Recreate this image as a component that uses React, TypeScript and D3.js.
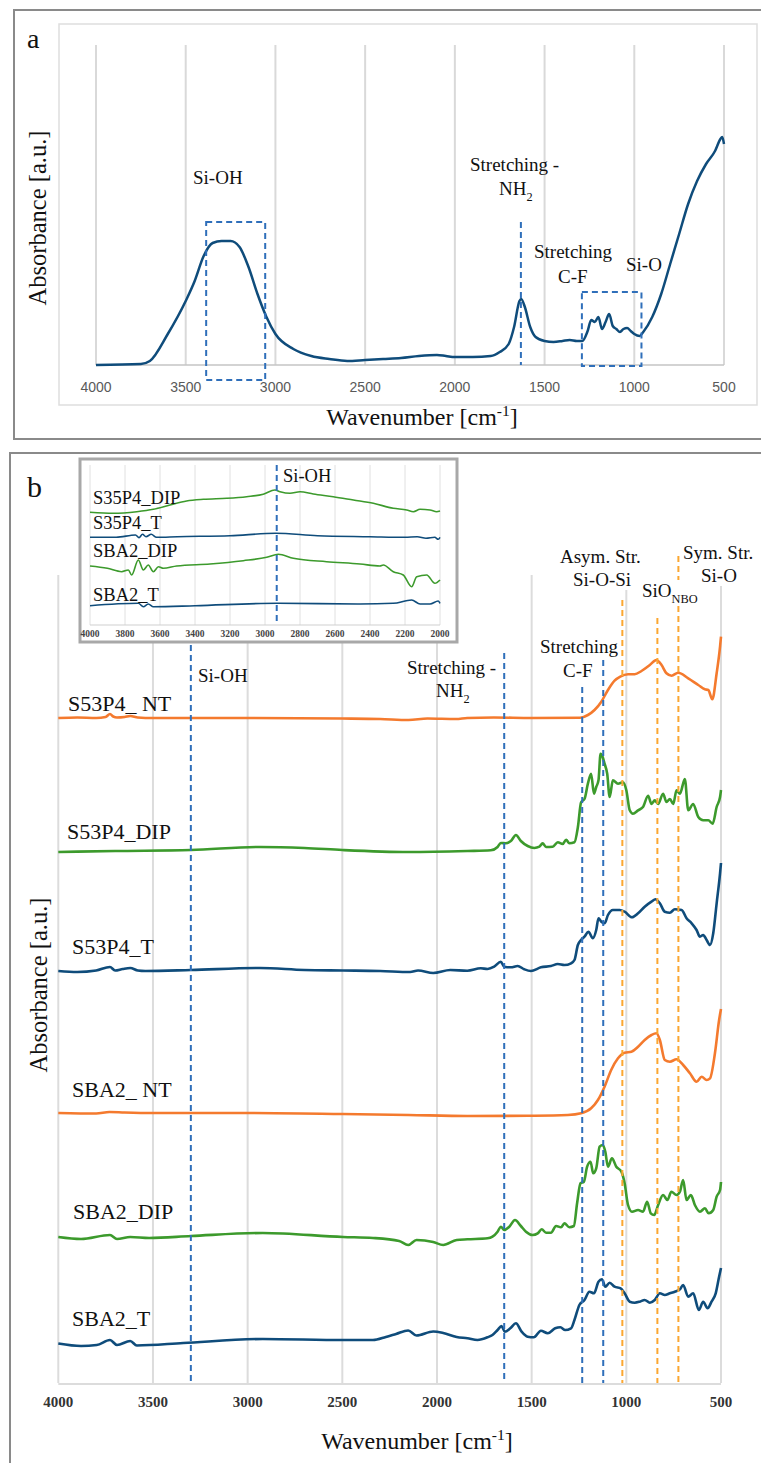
import React, { useEffect, useRef } from 'react';
import * as d3 from 'd3';

type Pt = [number, number];

const W = 761;
const H = 1463;
const serif = "'Liberation Serif', 'Times New Roman', serif";
const sans = "'Liberation Sans', Arial, sans-serif";

// ---- panel a ----
const ticksA = [4000, 3500, 3000, 2500, 2000, 1500, 1000, 500];
const spectrumA: Pt[] = [
  [4000, 0], [3750, 0.01], [3700, 0.04], [3600, 0.31], [3500, 0.64], [3450, 0.84], [3400, 1.09],
  [3350, 1.22], [3300, 1.24], [3250, 1.24], [3200, 1.18], [3150, 0.98], [3100, 0.71], [3050, 0.48],
  [3000, 0.31], [2900, 0.16], [2800, 0.09], [2700, 0.06], [2600, 0.04], [2500, 0.05], [2400, 0.06],
  [2300, 0.07], [2200, 0.09], [2100, 0.1], [2050, 0.09], [2000, 0.08], [1900, 0.08], [1800, 0.09],
  [1750, 0.13], [1700, 0.21], [1670, 0.38], [1640, 0.64], [1630, 0.66], [1610, 0.58], [1580, 0.38],
  [1550, 0.28], [1500, 0.24], [1450, 0.23], [1400, 0.24], [1360, 0.25], [1320, 0.24], [1290, 0.24],
  [1260, 0.34], [1240, 0.45], [1220, 0.43], [1200, 0.48], [1180, 0.36], [1160, 0.43], [1140, 0.51],
  [1120, 0.39], [1100, 0.36], [1080, 0.33], [1060, 0.36], [1040, 0.37], [1020, 0.34], [1000, 0.31],
  [970, 0.29], [950, 0.33], [900, 0.48], [850, 0.71], [800, 1.01], [750, 1.31], [700, 1.61],
  [650, 1.84], [600, 2.01], [550, 2.14], [520, 2.26], [510, 2.28], [500, 2.21],
];

// ---- panel b ----
const ticksB = [4000, 3500, 3000, 2500, 2000, 1500, 1000, 500];
const seriesNames = ['S53P4_ NT', 'S53P4_DIP', 'S53P4_T', 'SBA2_ NT', 'SBA2_DIP', 'SBA2_T'];
const seriesOffsets = [6.65, 5.32, 4.12, 2.7, 1.45, 0.39];

const s53p4NT: Pt[] = [
  [4000, 0], [3900, 0.005], [3800, 0], [3750, 0.01], [3727, 0.04], [3710, 0.015], [3690, 0.005],
  [3650, 0.01], [3620, 0.02], [3580, 0.005], [3500, 0], [3000, 0], [2500, -0.005], [2300, -0.01],
  [2150, -0.02], [2050, -0.005], [1900, -0.01], [1840, 0], [1700, 0.005], [1500, 0], [1244, 0.003],
  [1203, 0.03], [1168, 0.08], [1132, 0.163], [1097, 0.28], [1062, 0.373], [1032, 0.413], [991, 0.437],
  [956, 0.437], [920, 0.47], [876, 0.53], [841, 0.58], [814, 0.53], [788, 0.447], [761, 0.423],
  [726, 0.453], [673, 0.397], [620, 0.33], [585, 0.287], [567, 0.28], [546, 0.187], [523, 0.447],
  [505, 0.713], [500, 0.813],
];
const s53p4DIP: Pt[] = [
  [4000, -0.01], [3700, 0], [3300, 0.01], [2935, 0.04], [2700, 0.03], [2500, 0.01], [2150, -0.01],
  [1840, 0], [1716, 0.007], [1680, 0.04], [1663, 0.08], [1636, 0.077], [1610, 0.1], [1583, 0.16],
  [1557, 0.1], [1521, 0.05], [1486, 0.03], [1459, 0.043], [1442, 0.077], [1424, 0.04], [1389, 0.043],
  [1362, 0.087], [1336, 0.07], [1318, 0.113], [1301, 0.077], [1274, 0.087], [1256, 0.237], [1239, 0.487],
  [1221, 0.52], [1203, 0.673], [1186, 0.773], [1171, 0.573], [1159, 0.64], [1147, 0.707], [1136, 0.973],
  [1125, 0.94], [1115, 0.873], [1101, 0.773], [1088, 0.54], [1071, 0.707], [1044, 0.673], [1018, 0.687],
  [1000, 0.607], [982, 0.407], [965, 0.373], [938, 0.407], [912, 0.44], [885, 0.553], [867, 0.47],
  [850, 0.507], [832, 0.47], [806, 0.573], [788, 0.49], [770, 0.52], [752, 0.47], [735, 0.607],
  [717, 0.573], [691, 0.72], [673, 0.407], [647, 0.47], [620, 0.34], [594, 0.307], [567, 0.307],
  [544, 0.273], [523, 0.44], [505, 0.54], [500, 0.61],
];
const s53p4T: Pt[] = [
  [4000, 0], [3900, -0.01], [3800, 0.005], [3727, 0.04], [3700, 0.005], [3660, 0.02], [3620, 0.03],
  [3580, 0.005], [3540, 0], [3300, 0.01], [2935, 0.03], [2700, 0.01], [2496, 0.005], [2300, 0],
  [2142, -0.01], [2100, 0.005], [2020, -0.02], [1930, 0.01], [1840, 0.003], [1769, 0.027], [1733, 0.02],
  [1698, 0.043], [1663, 0.093], [1645, 0.043], [1610, 0.037], [1574, 0.05], [1539, 0.017], [1504, 0],
  [1451, 0.037], [1398, 0.05], [1362, 0.07], [1327, 0.06], [1292, 0.077], [1274, 0.11], [1256, 0.26],
  [1239, 0.31], [1221, 0.343], [1200, 0.393], [1177, 0.327], [1159, 0.41], [1147, 0.527], [1132, 0.493],
  [1115, 0.477], [1097, 0.56], [1071, 0.61], [1035, 0.61], [1009, 0.593], [970, 0.537], [938, 0.577],
  [903, 0.643], [867, 0.693], [846, 0.717], [823, 0.677], [797, 0.593], [770, 0.583], [744, 0.617],
  [708, 0.61], [682, 0.527], [655, 0.477], [629, 0.41], [611, 0.343], [594, 0.36], [576, 0.31],
  [558, 0.26], [541, 0.377], [523, 0.677], [505, 0.977], [500, 1.08],
];
const sba2NT: Pt[] = [
  [4000, 0], [3800, -0.005], [3730, 0.01], [3650, 0.005], [3500, 0], [3000, 0], [2500, -0.01],
  [2150, -0.02], [1839, -0.03], [1486, -0.027], [1309, -0.02], [1239, -0.003], [1186, 0.047],
  [1150, 0.13], [1115, 0.263], [1080, 0.43], [1044, 0.547], [1009, 0.603], [973, 0.613], [938, 0.663],
  [903, 0.73], [867, 0.78], [841, 0.797], [823, 0.73], [797, 0.53], [770, 0.513], [735, 0.537],
  [700, 0.48], [664, 0.397], [629, 0.313], [602, 0.363], [576, 0.33], [558, 0.347], [532, 0.597],
  [510, 0.93], [500, 1.04],
];
const sba2DIP: Pt[] = [
  [4000, 0.01], [3880, -0.01], [3727, 0.03], [3690, -0.01], [3620, 0.01], [3520, 0], [3300, 0.02],
  [2920, 0.05], [2496, 0.01], [2338, 0], [2200, -0.03], [2152, -0.07], [2108, -0.02], [2020, -0.04],
  [1967, -0.07], [1896, -0.02], [1839, -0.013], [1733, -0.003], [1707, 0.013], [1680, 0.063],
  [1663, 0.113], [1645, 0.08], [1618, 0.113], [1588, 0.18], [1557, 0.12], [1530, 0.063], [1495, 0.03],
  [1468, 0.047], [1447, 0.087], [1424, 0.053], [1398, 0.053], [1371, 0.12], [1345, 0.107], [1327, 0.147],
  [1301, 0.107], [1277, 0.12], [1260, 0.347], [1242, 0.547], [1224, 0.563], [1207, 0.713], [1189, 0.763],
  [1175, 0.647], [1159, 0.697], [1141, 0.913], [1124, 0.93], [1111, 0.863], [1097, 0.713], [1076, 0.797],
  [1053, 0.713], [1026, 0.663], [1009, 0.547], [991, 0.33], [970, 0.263], [938, 0.28], [912, 0.263],
  [890, 0.363], [871, 0.247], [853, 0.23], [832, 0.33], [806, 0.43], [783, 0.38], [762, 0.463],
  [735, 0.43], [717, 0.463], [700, 0.58], [682, 0.38], [659, 0.43], [638, 0.33], [611, 0.263],
  [585, 0.297], [565, 0.247], [541, 0.28], [523, 0.413], [505, 0.48], [500, 0.56],
];
const sba2T: Pt[] = [
  [4000, 0.005], [3880, -0.02], [3797, -0.01], [3727, 0.04], [3690, -0.01], [3620, 0.03], [3585, -0.015],
  [3340, 0.01], [2920, 0.05], [2496, 0.04], [2338, 0.04], [2270, 0.07], [2216, 0.1], [2152, 0.135],
  [2108, 0.085], [2020, 0.125], [1967, 0.11], [1896, 0.07], [1839, 0.057], [1786, 0.04], [1733, 0.067],
  [1707, 0.09], [1680, 0.14], [1659, 0.18], [1642, 0.123], [1613, 0.157], [1583, 0.207], [1553, 0.123],
  [1521, 0.073], [1489, 0.067], [1451, 0.133], [1415, 0.107], [1376, 0.157], [1348, 0.167], [1323, 0.14],
  [1292, 0.157], [1274, 0.24], [1248, 0.39], [1221, 0.44], [1195, 0.523], [1171, 0.507], [1147, 0.623],
  [1129, 0.647], [1111, 0.573], [1088, 0.613], [1062, 0.573], [1030, 0.557], [1009, 0.507], [982, 0.423],
  [956, 0.413], [929, 0.423], [903, 0.44], [876, 0.413], [850, 0.44], [823, 0.507], [797, 0.49],
  [770, 0.507], [744, 0.523], [717, 0.547], [700, 0.59], [673, 0.473], [647, 0.507], [617, 0.34],
  [594, 0.423], [571, 0.357], [550, 0.423], [528, 0.507], [510, 0.673], [500, 0.76],
];
const seriesData = [s53p4NT, s53p4DIP, s53p4T, sba2NT, sba2DIP, sba2T];

// band markers in panel b: [wavenumber, top value]
const blueMarks: Pt[] = [[3300, 8.08], [1645, 7.3], [1233, 6.96], [1122, 7.23]];
const orangeMarks: Pt[] = [[1021, 7.83], [836, 7.65], [725, 8.27]];

// ---- inset ----
const insetTicks = [4000, 3800, 3600, 3400, 3200, 3000, 2800, 2600, 2400, 2200, 2000];
const insetNames = ['S35P4_DIP', 'S35P4_T', 'SBA2_DIP', 'SBA2_T'];
const s35p4DIPi: Pt[] = [
  [4000, 1.127], [3867, 1.117], [3733, 1.133], [3638, 1.157], [3543, 1.2], [3448, 1.24], [3352, 1.257],
  [3219, 1.267], [3105, 1.283], [3010, 1.307], [2943, 1.35], [2914, 1.333], [2857, 1.317], [2800, 1.333],
  [2724, 1.31], [2610, 1.283], [2495, 1.25], [2381, 1.217], [2267, 1.167], [2190, 1.15], [2152, 1.133],
  [2114, 1.157], [2057, 1.15], [2019, 1.133], [2000, 1.14],
];
const s35p4Ti: Pt[] = [
  [4000, 0.877], [3850, 0.877], [3740, 0.9], [3720, 0.873], [3700, 0.907], [3680, 0.883], [3650, 0.907],
  [3620, 0.877], [3500, 0.883], [3200, 0.893], [2940, 0.917], [2700, 0.893], [2400, 0.883], [2200, 0.877],
  [2130, 0.883], [2080, 0.867], [2030, 0.877], [2010, 0.857], [2000, 0.877],
];
const sba2DIPi: Pt[] = [
  [4000, 0.59], [3901, 0.567], [3819, 0.533], [3781, 0.55], [3762, 0.5], [3724, 0.65], [3695, 0.55],
  [3667, 0.6], [3638, 0.533], [3609, 0.583], [3581, 0.567], [3505, 0.59], [3314, 0.61], [3124, 0.643],
  [2990, 0.677], [2924, 0.707], [2838, 0.667], [2648, 0.633], [2457, 0.61], [2343, 0.59], [2324, 0.6],
  [2267, 0.533], [2210, 0.5], [2162, 0.383], [2133, 0.483], [2076, 0.5], [2029, 0.417], [2000, 0.45],
];
const sba2Ti: Pt[] = [
  [4000, 0.193], [3724, 0.217], [3695, 0.183], [3667, 0.21], [3638, 0.183], [3400, 0.193], [2933, 0.217],
  [2457, 0.21], [2267, 0.217], [2162, 0.25], [2114, 0.21], [2057, 0.21], [2010, 0.24], [2000, 0.217],
];
const insetData = [s35p4DIPi, s35p4Ti, sba2DIPi, sba2Ti];

const BLUE = '#0f4c7b';
const GREEN = '#3c9a2c';
const ORANGE = '#f47a2e';
const DASH_BLUE = '#2f6fba';
const DASH_ORANGE = '#fba731';
const seriesColors = [ORANGE, GREEN, BLUE, ORANGE, GREEN, BLUE];
const insetColors = [GREEN, BLUE, GREEN, BLUE];

type Part = { t: string; sub?: boolean; sup?: boolean };

const App = () => {
  const ref = useRef<SVGSVGElement>(null);

  useEffect(() => {
    const svg = d3.select(ref.current);
    svg.selectAll('*').remove();
    svg.append('rect').attr('width', W).attr('height', H).attr('fill', '#fff');

    const addText = (g: any, x: number, y: number, parts: Part[], size: number, opts: any = {}) => {
      const t = g
        .append('text')
        .attr('x', x)
        .attr('y', y)
        .style('font-family', opts.family || serif)
        .attr('font-size', size)
        .attr('font-weight', opts.weight || 'normal')
        .attr('text-anchor', opts.anchor || 'start')
        .attr('fill', opts.fill || '#111');
      if (opts.rotate) t.attr('transform', `rotate(-90,${x},${y})`);
      let shift = 0;
      parts.forEach((p) => {
        const s = t.append('tspan').text(p.t);
        const target = p.sub ? size * 0.3 : p.sup ? -size * 0.38 : 0;
        if (target !== shift) {
          s.attr('dy', target - shift);
          shift = target;
        }
        if (p.sub || p.sup) s.attr('font-size', size * 0.65);
      });
      if (opts.bg) {
        const b = (t.node() as SVGTextElement).getBBox();
        g.insert('rect', () => t.node())
          .attr('x', b.x - 1)
          .attr('y', b.y)
          .attr('width', b.width + 2)
          .attr('height', b.height)
          .attr('fill', '#fff');
      }
      return t;
    };

    // ================= panel a =================
    const ga = svg.append('g');
    const xA = d3.scaleLinear().domain([4000, 500]).range([96, 724]);
    const yA = d3.scaleLinear().domain([0, 3.2]).range([365, 45]);

    ga.append('rect').attr('x', 14).attr('y', 10).attr('width', 800).attr('height', 429)
      .attr('fill', 'none').attr('stroke', '#8a8a8a').attr('stroke-width', 2);
    ga.append('rect').attr('x', 59).attr('y', 24).attr('width', 698).attr('height', 381)
      .attr('fill', 'none').attr('stroke', '#dedede').attr('stroke-width', 1.5);

    ga.selectAll('line.grid').data(ticksA).enter().append('line')
      .attr('x1', (d) => xA(d)).attr('x2', (d) => xA(d))
      .attr('y1', yA(0)).attr('y2', yA(3.2))
      .attr('stroke', '#d9d9d9').attr('stroke-width', 2);
    ga.append('line').attr('x1', xA(4000)).attr('x2', xA(500)).attr('y1', yA(0)).attr('y2', yA(0))
      .attr('stroke', '#c4c4c4').attr('stroke-width', 1.5);
    ga.selectAll('text.tick').data(ticksA).enter().append('text')
      .attr('x', (d) => xA(d)).attr('y', 392)
      .attr('text-anchor', 'middle').style('font-family', sans)
      .attr('font-size', 14).attr('fill', '#595959').text((d) => d);

    const lineA = d3.line<Pt>().x((d) => xA(d[0])).y((d) => yA(d[1])).curve(d3.curveMonotoneX);
    ga.append('path').attr('d', lineA(spectrumA)).attr('fill', 'none')
      .attr('stroke', BLUE).attr('stroke-width', 2.5).attr('stroke-linejoin', 'round');

    const dashA = { stroke: DASH_BLUE, w: 2, dash: '6,4' };
    ga.append('rect').attr('x', xA(3386)).attr('y', yA(1.43))
      .attr('width', xA(3057) - xA(3386)).attr('height', yA(-0.15) - yA(1.43))
      .attr('fill', 'none').attr('stroke', dashA.stroke).attr('stroke-width', dashA.w).attr('stroke-dasharray', dashA.dash);
    ga.append('rect').attr('x', xA(1292)).attr('y', yA(0.73))
      .attr('width', xA(960) - xA(1292)).attr('height', yA(-0.01) - yA(0.73))
      .attr('fill', 'none').attr('stroke', dashA.stroke).attr('stroke-width', dashA.w).attr('stroke-dasharray', dashA.dash);
    ga.append('line').attr('x1', xA(1632)).attr('x2', xA(1632)).attr('y1', yA(1.43)).attr('y2', yA(0))
      .attr('stroke', dashA.stroke).attr('stroke-width', dashA.w).attr('stroke-dasharray', dashA.dash);

    addText(ga, 27, 48, [{ t: 'a' }], 28);
    addText(ga, 193, 184, [{ t: 'Si-OH' }], 19);
    addText(ga, 470, 171, [{ t: 'Stretching -' }], 19);
    addText(ga, 499, 195, [{ t: 'NH' }, { t: '2', sub: true }], 19);
    addText(ga, 534, 258, [{ t: 'Stretching' }], 19);
    addText(ga, 558, 283, [{ t: 'C-F' }], 19);
    addText(ga, 626, 271, [{ t: 'Si-O' }], 19);
    addText(ga, 422, 425, [{ t: 'Wavenumber [cm' }, { t: '-1', sup: true }, { t: ']' }], 24, { anchor: 'middle' });
    addText(ga, 46, 218, [{ t: 'Absorbance [a.u.]' }], 24.5, { anchor: 'middle', rotate: true });

    // ================= panel b =================
    const gb = svg.append('g');
    const xB = d3.scaleLinear().domain([4000, 500]).range([58.3, 721]);
    const yB = d3.scaleLinear().domain([0, 8.08]).range([1383, 575]);

    gb.append('rect').attr('x', 10).attr('y', 453).attr('width', 800).attr('height', 1100)
      .attr('fill', 'none').attr('stroke', '#8a8a8a').attr('stroke-width', 2);

    gb.selectAll('line.grid').data(ticksB).enter().append('line')
      .attr('x1', (d) => xB(d)).attr('x2', (d) => xB(d))
      .attr('y1', yB(0)).attr('y2', yB(8.08))
      .attr('stroke', '#dcdcdc').attr('stroke-width', 2);
    gb.append('line').attr('x1', xB(4000)).attr('x2', xB(500)).attr('y1', yB(0) + 1).attr('y2', yB(0) + 1)
      .attr('stroke', '#d0d0d0').attr('stroke-width', 1.5);

    seriesData.forEach((s, i) => {
      const line = d3.line<Pt>().x((d) => xB(d[0])).y((d) => yB(d[1] + seriesOffsets[i])).curve(d3.curveMonotoneX);
      gb.append('path').attr('d', line(s)).attr('fill', 'none')
        .attr('stroke', seriesColors[i]).attr('stroke-width', 2.6).attr('stroke-linejoin', 'round');
    });

    const drawMarks = (marks: Pt[], color: string) => {
      gb.selectAll(null).data(marks).enter().append('line')
        .attr('x1', (d) => xB(d[0])).attr('x2', (d) => xB(d[0]))
        .attr('y1', (d) => yB(d[1])).attr('y2', yB(0))
        .attr('stroke', color).attr('stroke-width', 2).attr('stroke-dasharray', '6,4');
    };
    drawMarks(blueMarks, DASH_BLUE);
    drawMarks(orangeMarks, DASH_ORANGE);

    // series labels
    const labelPos: Pt[] = [[68, 711], [67, 839], [72, 954], [72, 1097], [73, 1219], [72, 1326]];
    seriesNames.forEach((n, i) => addText(gb, labelPos[i][0], labelPos[i][1], [{ t: n }], 22));

    addText(gb, 198, 682, [{ t: 'Si-OH' }], 19);
    addText(gb, 407, 674, [{ t: 'Stretching -' }], 19);
    addText(gb, 436, 697, [{ t: 'NH' }, { t: '2', sub: true }], 19);
    addText(gb, 540, 653, [{ t: 'Stretching' }], 19, { bg: true });
    addText(gb, 563, 677, [{ t: 'C-F' }], 19);
    addText(gb, 560, 563, [{ t: 'Asym. Str.' }], 19, { bg: true });
    addText(gb, 573, 586, [{ t: 'Si-O-Si' }], 19, { bg: true });
    addText(gb, 642, 597, [{ t: 'SiO' }, { t: 'NBO', sub: true }], 19, { bg: true });
    addText(gb, 683, 559, [{ t: 'Sym. Str.' }], 19, { bg: true });
    addText(gb, 701, 582, [{ t: 'Si-O' }], 19, { bg: true });

    gb.selectAll('text.tick').data(ticksB).enter().append('text')
      .attr('x', (d) => xB(d)).attr('y', 1407)
      .attr('text-anchor', 'middle').style('font-family', serif).attr('font-weight', 'bold')
      .attr('font-size', 15).attr('fill', '#333').text((d) => d);

    addText(gb, 27, 497, [{ t: 'b' }], 30);
    addText(gb, 417, 1449, [{ t: 'Wavenumber [cm' }, { t: '-1', sup: true }, { t: ']' }], 24, { anchor: 'middle' });
    addText(gb, 47, 985, [{ t: 'Absorbance [a.u.]' }], 24.5, { anchor: 'middle', rotate: true });

    // ================= inset =================
    const gi = svg.append('g');
    const xI = d3.scaleLinear().domain([4000, 2000]).range([90, 440]);
    const yI = d3.scaleLinear().domain([0, 1.6]).range([625, 465]);

    gi.append('rect').attr('x', 80).attr('y', 459).attr('width', 377).attr('height', 183)
      .attr('fill', '#fff').attr('stroke', '#a8a8a8').attr('stroke-width', 3);
    gi.selectAll('line.grid').data(insetTicks).enter().append('line')
      .attr('x1', (d) => xI(d)).attr('x2', (d) => xI(d))
      .attr('y1', yI(0)).attr('y2', yI(1.6))
      .attr('stroke', '#e0e0e0').attr('stroke-width', 1);
    gi.append('line').attr('x1', xI(4000)).attr('x2', xI(2000)).attr('y1', yI(0)).attr('y2', yI(0))
      .attr('stroke', '#cfcfcf').attr('stroke-width', 1);
    gi.selectAll('text.tick').data(insetTicks).enter().append('text')
      .attr('x', (d) => xI(d)).attr('y', 637)
      .attr('text-anchor', 'middle').style('font-family', serif).attr('font-weight', 'bold')
      .attr('font-size', 9.5).attr('fill', '#444').text((d) => d);

    insetData.forEach((s, i) => {
      const line = d3.line<Pt>().x((d) => xI(d[0])).y((d) => yI(d[1])).curve(d3.curveMonotoneX);
      gi.append('path').attr('d', line(s)).attr('fill', 'none')
        .attr('stroke', insetColors[i]).attr('stroke-width', 1.6);
    });
    gi.append('line').attr('x1', xI(2933)).attr('x2', xI(2933)).attr('y1', yI(1.6)).attr('y2', yI(0))
      .attr('stroke', DASH_BLUE).attr('stroke-width', 2).attr('stroke-dasharray', '6,4');
    addText(gi, 283, 482, [{ t: 'Si-OH' }], 18.5);

    const insetLabelY = [504, 529, 557, 601];
    insetNames.forEach((n, i) => addText(gi, 93, insetLabelY[i], [{ t: n }], 18.5));
  }, []);

  return (
    <svg
      ref={ref}
      width={W}
      height={H}
      style={{ position: 'absolute', left: 0, top: 0, display: 'block' }}
    />
  );
};

export default App;
